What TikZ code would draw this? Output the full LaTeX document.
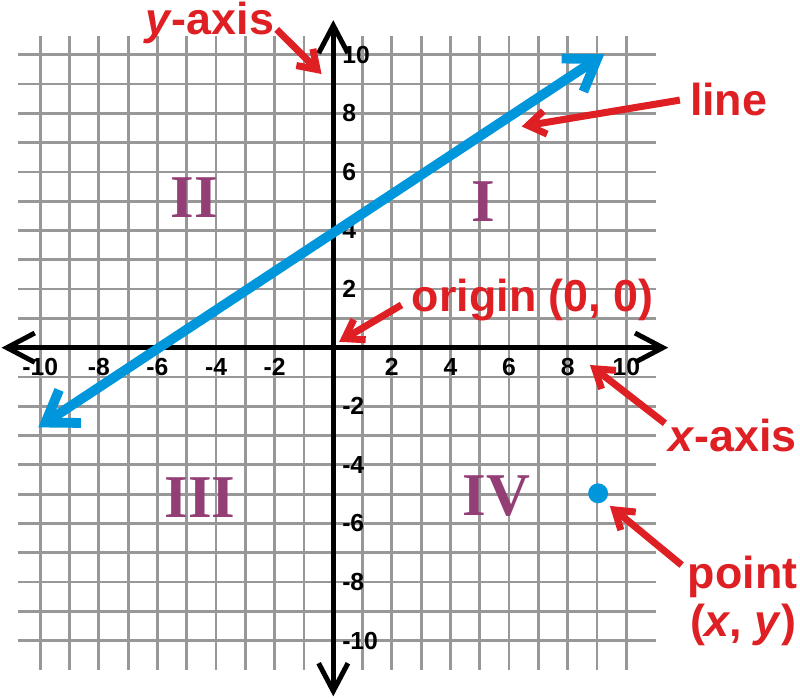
\documentclass[tikz,border=0pt]{standalone}
\usepackage{fontspec}
\setmainfont{Liberation Sans}
\newfontfamily\romfont{Liberation Serif}
\usetikzlibrary{arrows.meta}
\definecolor{redlab}{RGB}{222,32,36}
\definecolor{bluel}{RGB}{0,150,220}
\definecolor{purp}{RGB}{148,62,118}
\definecolor{gridg}{RGB}{152,152,152}
\begin{document}
\begin{tikzpicture}[
  gridline/.style={draw=gridg, line width=2.7pt},
  axisline/.style={draw=black, line width=4.8pt,
    {Straight Barb[length=0.95cm,width=1.0cm]}-{Straight Barb[length=0.95cm,width=1.0cm]}},
  num/.style={inner sep=0pt, font=\fontsize{24}{28}\selectfont\bfseries},
  roman/.style={inner sep=0pt, text=purp, font=\fontsize{59}{62}\selectfont\romfont\bfseries},
  blueline/.style={draw=bluel, line width=9.5pt,
    {Straight Barb[length=1.0cm,width=1.35cm]}-{Straight Barb[length=1.0cm,width=1.35cm]}},
  redarrow/.style={draw=redlab, line width=6.8pt, -{Straight Barb[length=0.6cm,width=0.8cm]}},
  redtext/.style={inner sep=0pt, anchor=base west, text=redlab, font=\fontsize{43.5}{50}\selectfont\bfseries},
  dot/.style={circle, fill=bluel, minimum size=0.68cm, inner sep=0pt}
]
\useasboundingbox (-11.375,-11.99) rectangle (15.93,11.867);
% grid
\foreach \y in {-10,...,10} \draw[gridline] (-10.75,\y) -- (11,\y);
\foreach \x in {-10,...,10} \draw[gridline] (\x,-11) -- (\x,10.63);
% axes
\coordinate (xa1) at (-11.32,0);
\coordinate (xa2) at (11.43,0);
\coordinate (ya1) at (0,-11.9);
\coordinate (ya2) at (0,11.18);
\draw[axisline] (xa1) -- (xa2);
\draw[axisline] (ya1) -- (ya2);
% numbers
\foreach \v in {-10,-8,-6,-4,-2,2,4,6,8,10} {
  \node[num] (xt\v) at (\v,-0.66) {\v};
  \node[num, anchor=west] (yt\v) at (0.3,\v) {\v};
}
% quadrants
\node[roman] (q2) at (-4.74,5.11) {II};
\node[roman] (q1) at (5.12,4.98) {I};
\node[roman] (q3) at (-4.55,-5.13) {III};
\node[roman] (q4) at (5.57,-5.06) {IV};
% blue line
\coordinate (bl1) at (-10.07,-2.72);
\coordinate (bl2) at (9.25,10.02);
\draw[blueline] (bl1) -- (bl2);
% point
\node[dot] (pt) at (9.04,-4.97) {};
% red labels
\node[redtext] (ylab) at (-6.43,10.68) {\textit{y}-axis};
\node[redtext] (llab) at (12.17,7.94) {line};
\node[redtext] (olab) at (2.68,1.23) {origin (0, 0)};
\node[redtext] (xlab) at (11.43,-3.53) {\textit{x}-axis};
\node[redtext] (plab) at (12.10,-8.21) {point};
\node[redtext] (plab2) at (12.17,-9.86) {(\textit{x}, \textit{y})};
% red arrows
\coordinate (r1a) at (-1.93,10.86);
\coordinate (r1b) at (-0.40,9.34);
\coordinate (r2a) at (11.83,8.45);
\coordinate (r2b) at (6.43,7.55);
\coordinate (r3a) at (2.33,1.46);
\coordinate (r3b) at (0.2,0.2);
\coordinate (r4a) at (11.32,-2.58);
\coordinate (r4b) at (8.76,-0.59);
\coordinate (r5a) at (11.89,-7.42);
\coordinate (r5b) at (9.44,-5.40);
\draw[redarrow] (r1a) -- (r1b);
\draw[redarrow] (r2a) -- (r2b);
\draw[redarrow] (r3a) -- (r3b);
\draw[redarrow] (r4a) -- (r4b);
\draw[redarrow] (r5a) -- (r5b);
\end{tikzpicture}
\end{document}
